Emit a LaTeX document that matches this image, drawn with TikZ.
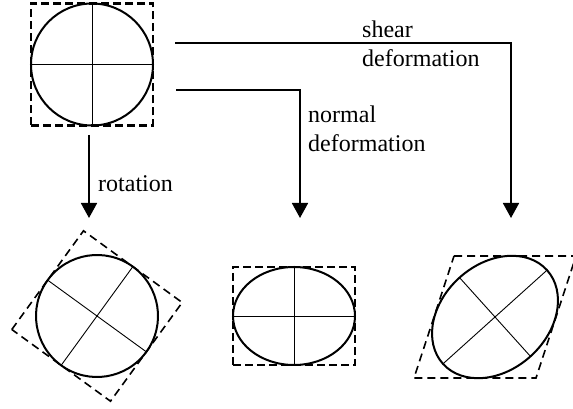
\documentclass[tikz,border=0pt]{standalone}
\usepackage{fontspec}
\setmainfont{Liberation Serif}
\usetikzlibrary{arrows.meta,calc}
\begin{document}
\begin{tikzpicture}[x=1pt,y=1pt,
  outline/.style={line width=2pt},
  axisline/.style={line width=0.9pt},
  thickdash/.style={line width=2.8pt,dash pattern=on 8pt off 4pt},
  thindash/.style={line width=1.6pt,dash pattern=on 8pt off 5pt},
  flow/.style={line width=1.8pt,-{Triangle[width=16pt,length=15pt]}},
  lbl/.style={anchor=base west,inner sep=0pt,align=left,
    font=\fontsize{24}{29}\selectfont}]
\useasboundingbox (0,0) rectangle (573,409);
% original
\node[thickdash,draw,minimum size=122pt,inner sep=0pt] (orig) at (92,344.5) {};
\draw[outline] (orig.center) circle (61);
\draw[axisline] (orig.north) -- (orig.south) (orig.west) -- (orig.east);
% rotation
\begin{scope}[shift={(97,93)},rotate=-36]
  \coordinate (rotc) at (0,0);
  \draw[thindash] (-61,-61) rectangle (61,61);
  \draw[outline] (rotc) circle (61);
  \draw[axisline] (-61,0) -- (61,0) (0,-61) -- (0,61);
\end{scope}
% normal deformation
\node[thickdash,draw,minimum width=122pt,minimum height=98pt,inner sep=0pt] (norm) at (294,93) {};
\draw[outline] (norm.center) ellipse [x radius=61, y radius=49];
\draw[axisline] (norm.north) -- (norm.south) (norm.west) -- (norm.east);
% shear deformation
\coordinate (shc) at (495,92);
\draw[thindash] ($(shc)+(-41,61)$) -- ($(shc)+(81,61)$) -- ($(shc)+(41,-61)$) -- ($(shc)+(-81,-61)$) -- cycle;
\begin{scope}[shift={(shc)},rotate=42]
  \draw[outline] (0,0) ellipse [x radius=70, y radius=53];
  \draw[axisline] (-70,0) -- (70,0) (0,-53) -- (0,53);
\end{scope}
% arrows
\coordinate (rs) at (89,274);
\coordinate (re) at (89,191);
\coordinate (ns) at (176,319);
\coordinate (ne) at (300,191);
\coordinate (ss) at (175,366);
\coordinate (se) at (511,191);
\draw[flow] (rs) -- (re);
\draw[flow] (ns) -| (ne);
\draw[flow] (ss) -| (se);
% labels
\node[lbl] (lrot) at (98,217) {rotation};
\node[lbl] (lnorm) at (308,257) {normal\\deformation};
\node[lbl] (lshear) at (362,342) {shear\\deformation};
\end{tikzpicture}
\end{document}
